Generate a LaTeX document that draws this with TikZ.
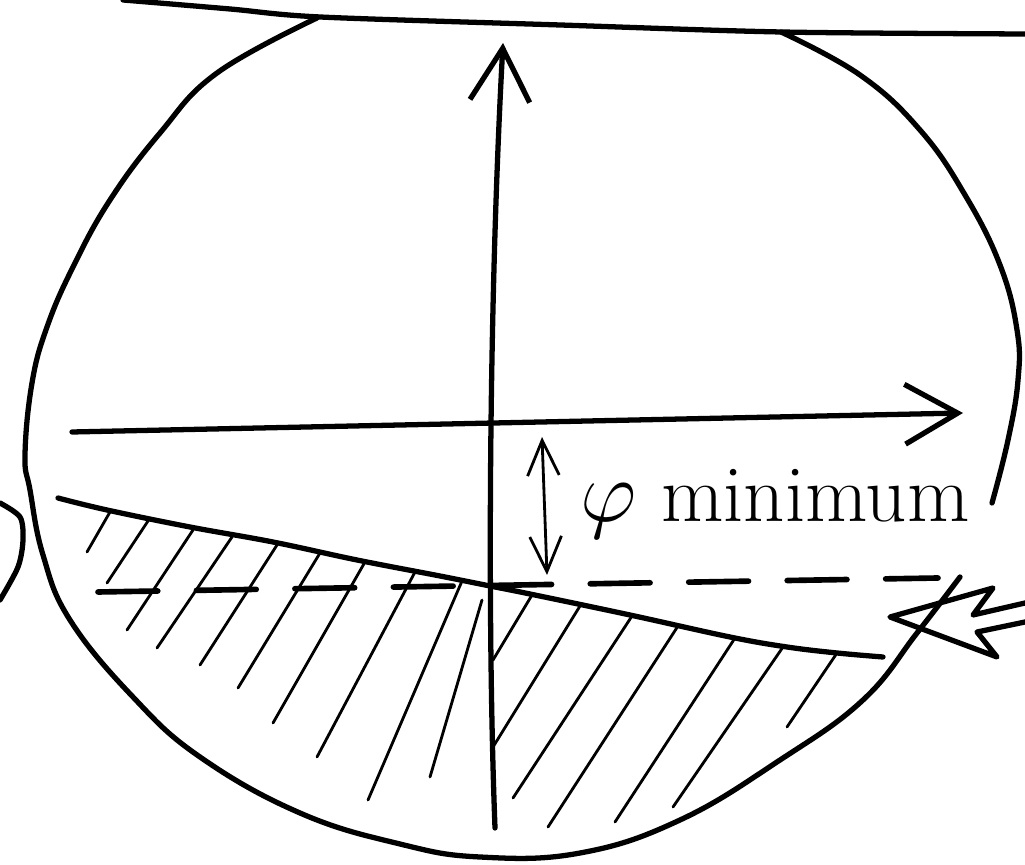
\documentclass[tikz,border=0pt]{standalone}
\usetikzlibrary{arrows.meta}
\begin{document}
\begin{tikzpicture}[x=0.01cm, y=-0.01cm, line cap=round, line join=round,
		pen/.style={line width=1.5pt},
		fine pen/.style={line width=0.8pt},
		hatch/.style={line width=0.8pt},
		dashline/.style={line width=1.6pt, dash pattern=on 17pt off 11pt},
		bigtip/.style={-{Straight Barb[length=15pt, width=17pt]}},
		gaptip/.style={{Straight Barb[length=10pt, width=9pt]}-{Straight Barb[length=10pt, width=9pt]}}]
		\useasboundingbox (0,0) rectangle (1025,865);
		\coordinate (vbot) at (495,828);   % foot of vertical axis
		\coordinate (vtop) at (503,43);    % tip of vertical axis
		\coordinate (hleft) at (72,432);   % start of horizontal axis
		\coordinate (hright) at (963,413); % tip of horizontal axis
		\coordinate (gtop) at (542,437);   % gap arrow, top
		\coordinate (gbot) at (547,575);   % gap arrow, bottom
		\coordinate (dleft) at (98,592);   % dashed level, left
		\coordinate (dright) at (938,578); % dashed level, right
		% rim, with a break at the right
		\draw[pen] plot[smooth, tension=0.7] coordinates {(960,577) (917,633) (863,700) (780,760) (680,820) (580,853) (480,857) (400,844) (300,813) (200,757) (133,697) (70,620) (43,555) (30,490) (25,455) (32,383) (47,327) (73,267) (110,200) (160,133) (217,73) (317,18)};
		\draw[pen] plot[smooth, tension=0.7] coordinates {(781,32) (860,75) (920,130) (965,195) (1000,265) (1017,330) (1018,380) (1008,440) (992,503)};
		% top line
		\draw[pen] plot[smooth, tension=0.5] coordinates {(123,0) (230,9) (320,17) (560,25) (781,32) (1025,34)};
		% piece at the left edge
		\draw[pen] plot[smooth] coordinates {(0,503) (20,517) (23,540) (18,567) (0,600)};
		% sloped boundary and hatching
		\draw[pen] plot[smooth, tension=0.6] coordinates {(58,498) (107,510) (190,527) (273,542) (357,560) (440,576) (490,586) (530,594) (630,615) (730,637) (787,647) (837,653) (883,657)};
		\foreach \xa/\ya/\xb/\yb in {110/512/87/552, 150/518/107/583, 193/530/127/630, 232/537/157/648, 277/545/200/665, 320/553/238/688, 365/562/273/723, 415/572/317/757, 462/581/368/800, 482/600/430/777, 532/595/493/660, 580/606/493/747, 632/616/513/798, 678/626/548/827, 735/638/615/822, 783/647/673/807, 837/653/787/727}
			\draw[hatch] (\xa,\ya) -- (\xb,\yb);
		\draw[dashline] (dleft) -- (dright);
		% axes
		\draw[pen, bigtip] (vbot) .. controls (487,620) and (489,300) .. (vtop);
		\draw[pen, bigtip] (hleft) -- (hright);
		% gap and label
		\draw[fine pen, gaptip] (gtop) -- (gbot);
		\node[font=\fontsize{23}{26}\selectfont, anchor=base west, inner sep=0pt] (lbl) at (580,522) {$\varphi$ minimum};
		% hollow arrow at the right
		\draw[pen] (1025,603) -- (973,615) -- (993,588) -- (890,617) -- (997,657) -- (977,632) -- (1025,622);
	\end{tikzpicture}
\end{document}
